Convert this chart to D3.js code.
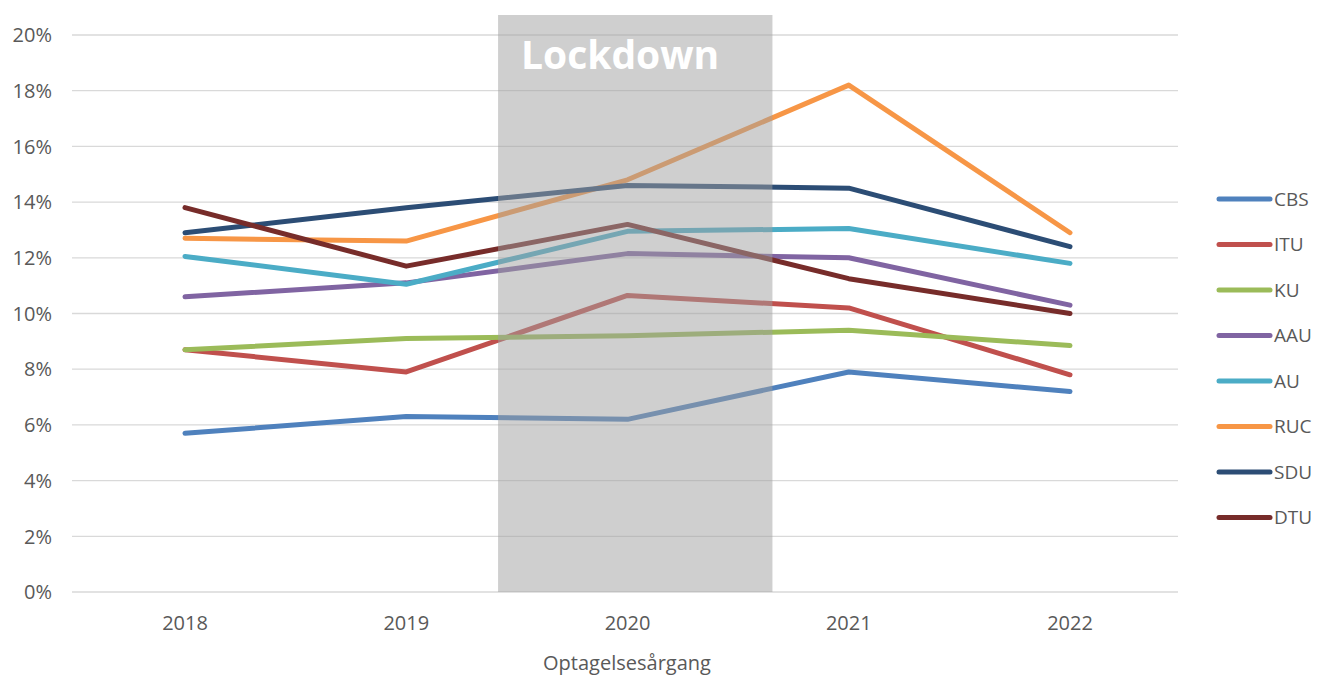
<!DOCTYPE html>
<html><head><meta charset="utf-8">
<script src="https://cdn.jsdelivr.net/npm/d3@7"></script>
<style>
html,body{margin:0;padding:0;background:#fff;}
svg text{font-family:"Open Sans",sans-serif;}
</style></head>
<body><svg id="c" width="1322" height="675"></svg>
<script>
const years = [2018, 2019, 2020, 2021, 2022];
const seriesNames = ["CBS", "ITU", "KU", "AAU", "AU", "RUC", "SDU", "DTU"];
const CBS = [5.7, 6.3, 6.2, 7.9, 7.2];
const ITU = [8.7, 7.9, 10.65, 10.2, 7.8];
const KU  = [8.7, 9.1, 9.2, 9.4, 8.85];
const AAU = [10.6, 11.1, 12.15, 12.0, 10.3];
const AU  = [12.05, 11.05, 12.95, 13.05, 11.8];
const RUC = [12.7, 12.6, 14.8, 18.2, 12.9];
const SDU = [12.9, 13.8, 14.6, 14.5, 12.4];
const DTU = [13.8, 11.7, 13.2, 11.25, 10.0];
const colors = ["#4F81BD", "#C0504D", "#9BBB59", "#8064A2", "#4BACC6", "#F79646", "#2C4D75", "#772C2A"];
const yTicks = [0, 2, 4, 6, 8, 10, 12, 14, 16, 18, 20];
const lockdown = [2019.415, 2020.655];
const lockdownLabel = "Lockdown";
const xTitle = "Optagelsesårgang";

const seriesValues = [CBS, ITU, KU, AAU, AU, RUC, SDU, DTU];
const svg = d3.select("#c");
const x = d3.scaleLinear().domain([2018, 2022]).range([185, 1070]);
const y = d3.scaleLinear().domain([0, 20]).range([592, 35]);
const plotL = 72, plotR = 1178;

// gridlines
svg.append("g").selectAll("line").data(yTicks).join("line")
  .attr("x1", plotL).attr("x2", plotR)
  .attr("y1", d => y(d)).attr("y2", d => y(d))
  .attr("stroke", "#d9d9d9").attr("stroke-width", 1.3);

// y labels
svg.append("g").selectAll("text").data(yTicks).join("text")
  .attr("x", 52).attr("y", d => y(d)).attr("dy", "0.36em")
  .attr("text-anchor", "end").attr("font-size", 20).attr("fill", "#595959")
  .text(d => d + "%");

// x labels
svg.append("g").selectAll("text").data(years).join("text")
  .attr("x", d => x(d)).attr("y", 630)
  .attr("text-anchor", "middle").attr("font-size", 20).attr("fill", "#595959")
  .text(d => d);

svg.append("text").attr("x", 627).attr("y", 670).attr("text-anchor", "middle")
  .attr("font-size", 20).attr("fill", "#595959").text(xTitle);

// lines
const line = d3.line().x((d, i) => x(years[i])).y(d => y(d));
svg.append("g").selectAll("path").data(seriesValues).join("path")
  .attr("d", d => line(d)).attr("fill", "none")
  .attr("stroke", (d, i) => colors[i]).attr("stroke-width", 5)
  .attr("stroke-linecap", "round").attr("stroke-linejoin", "round");

// lockdown rect on top
svg.append("rect").attr("x", x(lockdown[0])).attr("y", 15)
  .attr("width", x(lockdown[1]) - x(lockdown[0])).attr("height", y(0) - 15)
  .attr("fill", "rgb(160,160,160)").attr("fill-opacity", 0.5);
svg.append("text").attr("x", 521).attr("y", 69)
  .attr("font-size", 39).attr("font-weight", "bold").attr("fill", "#ffffff")
  .text(lockdownLabel);

// legend
const lg = svg.append("g").selectAll("g").data(seriesNames).join("g")
  .attr("transform", (d, i) => `translate(0,${199 + i * 45.5})`);
lg.append("line").attr("x1", 1219).attr("x2", 1270).attr("y1", 0).attr("y2", 0)
  .attr("stroke", (d, i) => colors[i]).attr("stroke-width", 5).attr("stroke-linecap", "round");
lg.append("text").attr("x", 1274).attr("y", 0).attr("dy", "0.36em")
  .attr("font-size", 19).attr("fill", "#595959").text(d => d);
</script></body></html>
